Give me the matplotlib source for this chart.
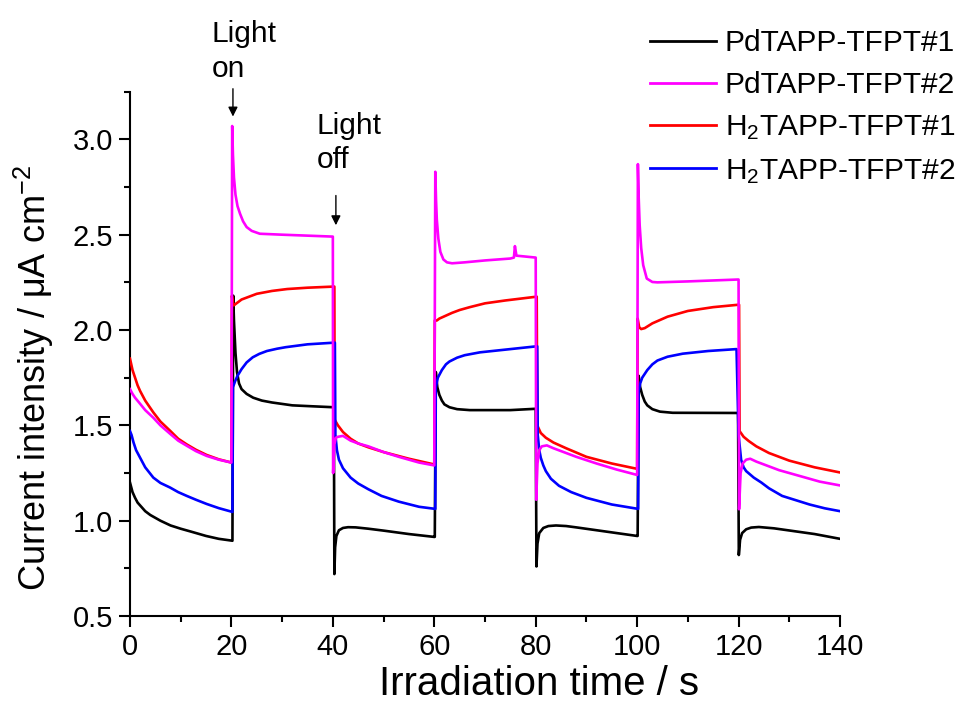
import matplotlib
matplotlib.use("Agg")
import matplotlib.pyplot as plt
from matplotlib.ticker import MultipleLocator, FormatStrFormatter

plt.rcParams['font.family'] = ['Liberation Sans', 'DejaVu Sans']
plt.rcParams['mathtext.fontset'] = 'custom'
plt.rcParams['mathtext.rm'] = 'Liberation Sans'
plt.rcParams['mathtext.it'] = 'Liberation Sans:italic'

labels = ['PdTAPP-TFPT#1', 'PdTAPP-TFPT#2',
          r'H$\mathregular{_2}$TAPP-TFPT#1', r'H$\mathregular{_2}$TAPP-TFPT#2']
colors = ['#000000', '#FF00FF', '#FF0000', '#0000FF']

# PdTAPP-TFPT#1 (black)
t_pd1 = [0, 0.5, 1, 1.5, 2, 3, 4, 5, 6, 8, 10, 12, 15, 17.5, 20.2,
         20.35, 20.5, 20.8, 21.1, 21.5, 22, 23, 24.3, 26, 28, 32, 36, 40.2,
         40.3, 40.45, 40.7, 41.2, 42, 43, 44.5, 47, 50, 55, 60.0,
         60.1, 60.3, 60.6, 61, 61.5, 62, 63, 64.5, 67, 75, 80.0,
         80.15, 80.35, 80.7, 81.5, 82.5, 84, 86, 88, 92, 96, 100.0,
         100.1, 100.3, 100.6, 101, 101.5, 102, 103, 104.5, 107, 119.9,
         120.05, 120.3, 120.7, 121.5, 122.5, 124, 127, 131, 135, 140]
y_pd1 = [1.20, 1.15, 1.12, 1.095, 1.08, 1.05, 1.03, 1.015, 1.00, 0.975, 0.958, 0.943, 0.92, 0.905, 0.895,
         2.18, 2.05, 1.88, 1.78, 1.72, 1.69, 1.665, 1.645, 1.63, 1.62, 1.605, 1.60, 1.595,
         0.72, 0.86, 0.92, 0.95, 0.962, 0.966, 0.965, 0.958, 0.948, 0.93, 0.915,
         0.915, 1.78, 1.70, 1.66, 1.63, 1.61, 1.595, 1.585, 1.58, 1.58, 1.587,
         0.76, 0.88, 0.935, 0.962, 0.972, 0.975, 0.972, 0.965, 0.95, 0.935, 0.92,
         0.92, 1.76, 1.70, 1.66, 1.625, 1.605, 1.585, 1.572, 1.566, 1.565,
         0.82, 0.90, 0.935, 0.955, 0.964, 0.967, 0.96, 0.945, 0.93, 0.905]

# PdTAPP-TFPT#2 (magenta)
t_pd2 = [0, 0.5, 1, 2, 3, 4.6, 6, 7.9, 9.5, 11.2, 13, 15.1, 17.5, 20.0,
         20.15, 20.3, 20.5, 20.8, 21.2, 21.7, 22.3, 23, 24, 25.6, 30, 35, 40.0,
         40.05, 40.3, 40.6, 41, 42, 43.5, 45, 47, 50, 53, 57, 60.0,
         60.2, 60.35, 60.5, 60.8, 61.2, 61.8, 62.5, 63.5, 66, 70, 75, 75.7, 75.9, 76.2, 80.0,
         80.1, 80.35, 80.7, 81.2, 82.2, 83.5, 85, 88, 92, 96, 100.0,
         100.15, 100.3, 100.5, 100.8, 101.2, 101.9, 103, 104, 110, 115, 120.0,
         120.1, 120.4, 120.8, 121.5, 122.3, 123.5, 125, 128, 132, 136, 140]
y_pd2 = [1.69, 1.665, 1.645, 1.613, 1.58, 1.54, 1.50, 1.456, 1.42, 1.393, 1.365, 1.34, 1.32, 1.305,
         3.07, 2.92, 2.80, 2.71, 2.65, 2.61, 2.57, 2.54, 2.52, 2.505, 2.50, 2.495, 2.49,
         1.25, 1.40, 1.435, 1.44, 1.445, 1.42, 1.405, 1.39, 1.36, 1.335, 1.305, 1.29,
         2.83, 2.68, 2.58, 2.48, 2.41, 2.37, 2.355, 2.35, 2.355, 2.365, 2.375, 2.38, 2.44, 2.39, 2.38,
         1.11, 1.30, 1.37, 1.39, 1.395, 1.38, 1.365, 1.335, 1.30, 1.268, 1.24,
         2.87, 2.70, 2.55, 2.43, 2.34, 2.27, 2.252, 2.25, 2.255, 2.26, 2.265,
         1.06, 1.25, 1.30, 1.32, 1.325, 1.31, 1.295, 1.265, 1.235, 1.205, 1.185]

# H2TAPP-TFPT#1 (red)
t_h1 = [0, 0.5, 1, 1.5, 2, 3, 4.6, 6, 7.9, 9.5, 11.2, 13, 15.1, 17.5, 20.0,
        20.1, 20.3, 20.5, 21, 22, 23.5, 25, 28, 31, 35, 40.3,
        40.35, 41, 42, 43.5, 45, 47, 50, 55, 60.0,
        60.1, 60.5, 61, 62, 63.5, 65, 67, 70, 74, 80.2,
        80.3, 81, 82, 83.5, 86, 90, 95, 100.0,
        100.1, 100.4, 100.8, 101.5, 103, 106, 110, 115, 120.1,
        120.2, 121, 122, 123.5, 126, 130, 135, 140]
y_h1 = [1.85, 1.79, 1.75, 1.71, 1.68, 1.63, 1.568, 1.52, 1.472, 1.43, 1.40, 1.372, 1.345, 1.322, 1.305,
        2.18, 2.14, 2.13, 2.14, 2.16, 2.175, 2.19, 2.205, 2.215, 2.222, 2.228,
        1.53, 1.50, 1.465, 1.43, 1.405, 1.385, 1.36, 1.325, 1.295,
        2.05, 2.05, 2.06, 2.072, 2.09, 2.105, 2.12, 2.14, 2.155, 2.175,
        1.50, 1.46, 1.435, 1.41, 1.38, 1.335, 1.30, 1.272,
        2.06, 2.015, 2.005, 2.01, 2.035, 2.07, 2.10, 2.12, 2.133,
        1.47, 1.44, 1.418, 1.39, 1.355, 1.315, 1.28, 1.253]

# H2TAPP-TFPT#2 (blue)
t_h2 = [0, 0.3, 0.7, 1.2, 2, 3, 4.6, 6, 7.9, 9.5, 11.2, 13, 15.1, 17.5, 20.2,
        20.3, 20.7, 21.2, 22, 23, 24.2, 25.5, 27, 29, 30.7, 35, 40.4,
        40.5, 40.8, 41.2, 42, 43.5, 45, 47, 49.6, 53, 57, 60.2,
        60.3, 60.7, 61.5, 62.3, 63, 64.5, 66, 69, 75, 80.3,
        80.4, 80.7, 81, 81.5, 82, 83, 84.6, 87, 90, 95, 100.2,
        100.3, 100.6, 101, 102, 103, 104, 106, 109, 114, 119.6,
        120.0, 120.5, 121, 121.5, 123, 124.5, 126, 128.6, 131, 134, 137, 140]
y_h2 = [1.47, 1.45, 1.41, 1.37, 1.33, 1.28, 1.226, 1.198, 1.174, 1.15, 1.13, 1.11, 1.088, 1.066, 1.046,
        1.70, 1.73, 1.76, 1.795, 1.83, 1.857, 1.875, 1.89, 1.902, 1.91, 1.925, 1.934,
        1.45, 1.37, 1.32, 1.275, 1.226, 1.195, 1.165, 1.13, 1.10, 1.073, 1.062,
        1.70, 1.75, 1.79, 1.82, 1.835, 1.855, 1.868, 1.883, 1.90, 1.915,
        1.45, 1.37, 1.33, 1.29, 1.26, 1.22, 1.183, 1.15, 1.12, 1.085, 1.062,
        1.68, 1.72, 1.75, 1.79, 1.82, 1.84, 1.86, 1.876, 1.89, 1.90,
        1.45, 1.32, 1.28, 1.26, 1.226, 1.20, 1.17, 1.13, 1.11, 1.085, 1.065, 1.05]

series_t = [t_pd1, t_pd2, t_h1, t_h2]
series_y = [y_pd1, y_pd2, y_h1, y_h2]

fig = plt.figure(figsize=(9.73, 7.18), dpi=100)
ax = fig.add_axes([0.1336, 0.142, 0.7297, 0.7303])

zorders = [2, 5, 3, 4]
for t, y, c, lab, z in zip(series_t, series_y, colors, labels, zorders):
    ax.plot(t, y, color=c, lw=1.9, label=lab, zorder=z, solid_joinstyle='round')

ax.set_xlim(0, 140)
ax.set_ylim(0.5, 3.25)
ax.xaxis.set_major_locator(MultipleLocator(20))
ax.xaxis.set_minor_locator(MultipleLocator(10))
ax.yaxis.set_major_locator(MultipleLocator(0.5))
ax.yaxis.set_minor_locator(MultipleLocator(0.25))
ax.yaxis.set_major_formatter(FormatStrFormatter('%.1f'))
for s in ['top', 'right']:
    ax.spines[s].set_visible(False)
for s in ['left', 'bottom']:
    ax.spines[s].set_linewidth(1.5)
ax.tick_params(which='major', direction='out', length=8, width=1.5, labelsize=21, pad=4)
ax.tick_params(which='minor', direction='out', length=4.5, width=1.5)

ax.set_xlabel('Irradiation time / s', fontsize=29)
ax.xaxis.set_label_coords(0.576, -0.094)
ax.set_ylabel(r'Current intensity / μA cm$\mathregular{^{-2}}$', fontsize=26)
ax.yaxis.set_label_coords(-0.104, 0.455)

# annotations
ax.text(16.1, 3.625, 'Light\non', fontsize=21.5, ha='left', va='top', linespacing=1.3, clip_on=False)
ax.annotate('', xy=(20.3, 3.105), xytext=(20.3, 3.28), annotation_clip=False,
            arrowprops=dict(arrowstyle='-|>', color='black', lw=1.0, mutation_scale=14))
ax.text(36.8, 3.145, 'Light\noff', fontsize=21.5, ha='left', va='top', linespacing=1.3, clip_on=False)
ax.annotate('', xy=(40.6, 2.535), xytext=(40.6, 2.72), annotation_clip=False,
            arrowprops=dict(arrowstyle='-|>', color='black', lw=1.0, mutation_scale=14))

leg = fig.legend(loc='upper left', bbox_to_anchor=(650 / 973, 1 - 29 / 718), frameon=False,
                 fontsize=21.5, handlelength=2.2, handletextpad=0.3, labelspacing=0.48,
                 borderpad=0, borderaxespad=0)
for h in leg.legend_handles:
    h.set_linewidth(2)

fig.savefig('out.png', dpi=100)
